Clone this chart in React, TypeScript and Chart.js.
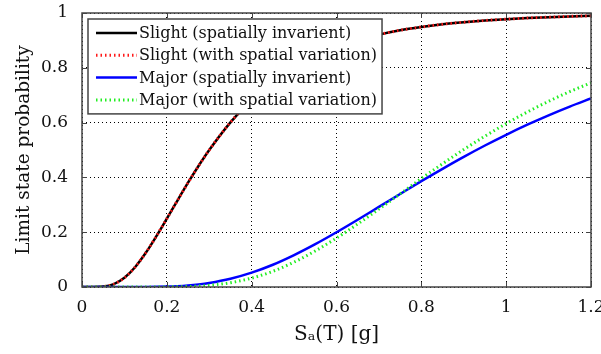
import React, { useEffect, useRef } from 'react';
import { Chart, registerables } from 'chart.js';

Chart.register(...registerables);

// Spectral acceleration Sa(T) [g]
const SA = [0, 0.025, 0.05, 0.075, 0.1, 0.125, 0.15, 0.175, 0.2, 0.225, 0.25, 0.275, 0.3,
  0.35, 0.4, 0.45, 0.5, 0.55, 0.6, 0.65, 0.7, 0.75, 0.8, 0.85, 0.9, 0.95, 1.0, 1.05, 1.1, 1.15, 1.2];

const SLIGHT_INV = [0, 0, 0.0014, 0.0104, 0.0336, 0.0723, 0.124, 0.1846, 0.2495, 0.3156, 0.3806, 0.4424, 0.5,
  0.601, 0.684, 0.75, 0.803, 0.844, 0.876, 0.901, 0.921, 0.937, 0.949, 0.959, 0.9665, 0.9726, 0.9776, 0.9816, 0.9848, 0.9875, 0.9896];
const SLIGHT_VAR = [0, 0, 0.0014, 0.0104, 0.0336, 0.0723, 0.124, 0.1846, 0.2495, 0.3156, 0.3806, 0.4424, 0.5,
  0.601, 0.684, 0.75, 0.803, 0.844, 0.876, 0.901, 0.921, 0.937, 0.949, 0.959, 0.9665, 0.9726, 0.9776, 0.9816, 0.9848, 0.9875, 0.9896];
const MAJOR_INV = [0, 0, 0, 0, 0, 0.0001, 0.0002, 0.0007, 0.0016, 0.0032, 0.0058, 0.0096, 0.0148,
  0.0301, 0.0524, 0.0812, 0.1164, 0.1563, 0.1997, 0.2454, 0.2925, 0.3395, 0.3863, 0.4313, 0.4749, 0.5164, 0.5555, 0.5923, 0.6266, 0.6585, 0.688];
const MAJOR_VAR = [0, 0, 0, 0, 0, 0, 0, 0.0001, 0.0003, 0.0008, 0.0018, 0.0035, 0.0062,
  0.0158, 0.0325, 0.0573, 0.0908, 0.1316, 0.1785, 0.23, 0.2843, 0.3398, 0.3959, 0.4497, 0.5018, 0.5505, 0.5964, 0.6388, 0.6776, 0.7132, 0.7453];

const SERIES_LABELS = [
  'Slight (spatially invarient)',
  'Slight (with spatial variation)',
  'Major (spatially invarient)',
  'Major (with spatial variation)',
];

const X_TICKS = [0, 0.2, 0.4, 0.6, 0.8, 1, 1.2];
const X_TICK_LABELS = ['0', '0.2', '0.4', '0.6', '0.8', '1', '1.2'];
const Y_TICKS = [0, 0.2, 0.4, 0.6, 0.8, 1];
const Y_TICK_LABELS = ['0', '0.2', '0.4', '0.6', '0.8', '1'];

const FONT = 'DejaVu Serif';
const FRAME = '#444444';

const toPoints = (ys: number[]) => SA.map((x, i) => ({ x, y: ys[i] }));

const framePlugin = {
  id: 'frameTicks',
  afterDatasetsDraw(chart: any) {
    const { ctx, chartArea: a, scales } = chart;
    ctx.save();
    ctx.strokeStyle = FRAME;
    ctx.lineWidth = 1;
    const L = 5;
    ctx.beginPath();
    X_TICKS.forEach((v) => {
      const px = Math.round(scales.x.getPixelForValue(v)) + 0.5;
      ctx.moveTo(px, a.bottom); ctx.lineTo(px, a.bottom - L);
      ctx.moveTo(px, a.top); ctx.lineTo(px, a.top + L);
    });
    Y_TICKS.forEach((v) => {
      const py = Math.round(scales.y.getPixelForValue(v)) + 0.5;
      ctx.moveTo(a.left, py); ctx.lineTo(a.left + L, py);
      ctx.moveTo(a.right, py); ctx.lineTo(a.right - L, py);
    });
    ctx.stroke();
    ctx.lineWidth = 1.5;
    ctx.strokeRect(a.left, a.top, a.right - a.left, a.bottom - a.top);
    ctx.restore();
  },
};

const legendPlugin = {
  id: 'innerLegend',
  afterDraw(chart: any) {
    const { ctx, chartArea: a } = chart;
    const ds = chart.data.datasets;
    ctx.save();
    ctx.font = `16px "${FONT}"`;
    const maxW = Math.max(...ds.map((d: any) => ctx.measureText(d.label).width));
    const left = a.left + 6;
    const top = a.top + 6;
    const sampleL = 8, sampleW = 41, gap = 2, rowH = 22.3, padTop = 14;
    const w = sampleL + sampleW + gap + maxW + 5;
    const h = padTop + rowH * (ds.length - 1) + 14;
    ctx.fillStyle = '#ffffff';
    ctx.fillRect(left, top, w, h);
    ctx.strokeStyle = FRAME;
    ctx.lineWidth = 1.5;
    ctx.strokeRect(left, top, w, h);
    ds.forEach((d: any, i: number) => {
      const y = top + padTop + rowH * i;
      ctx.beginPath();
      ctx.strokeStyle = d.borderColor;
      ctx.lineWidth = d.borderWidth;
      ctx.setLineDash(d.borderDash || []);
      ctx.moveTo(left + sampleL, y);
      ctx.lineTo(left + sampleL + sampleW, y);
      ctx.stroke();
      ctx.setLineDash([]);
      ctx.fillStyle = '#111111';
      ctx.textBaseline = 'middle';
      ctx.textAlign = 'left';
      ctx.fillText(d.label, left + sampleL + sampleW + gap, y + 1);
    });
    ctx.restore();
  },
};

export default function App() {
  const ref = useRef<HTMLCanvasElement | null>(null);

  useEffect(() => {
    if (!ref.current) return;
    const chart = new Chart(ref.current, {
      type: 'line',
      data: {
        datasets: [
          { label: SERIES_LABELS[0], data: toPoints(SLIGHT_INV), order: 4, borderColor: '#000000', borderWidth: 2.5, pointRadius: 0, cubicInterpolationMode: 'monotone', fill: false },
          { label: SERIES_LABELS[1], data: toPoints(SLIGHT_VAR), order: 3, borderColor: '#ff1a1a', borderWidth: 3, borderDash: [1.5, 3], pointRadius: 0, cubicInterpolationMode: 'monotone', fill: false },
          { label: SERIES_LABELS[2], data: toPoints(MAJOR_INV), order: 2, borderColor: '#0000ff', borderWidth: 2.5, pointRadius: 0, cubicInterpolationMode: 'monotone', fill: false },
          { label: SERIES_LABELS[3], data: toPoints(MAJOR_VAR), order: 1, borderColor: '#22ee22', borderWidth: 3, borderDash: [1.5, 3], pointRadius: 0, cubicInterpolationMode: 'monotone', fill: false },
        ] as any,
      },
      options: {
        animation: false,
        responsive: false,
        layout: { padding: { top: 13, right: 10, left: 0, bottom: 0 } },
        plugins: { legend: { display: false }, tooltip: { enabled: false } },
        scales: {
          x: {
            type: 'linear',
            min: 0,
            max: 1.2,
            afterBuildTicks: (s: any) => { s.ticks = X_TICKS.map((v) => ({ value: v })); },
            afterFit: (s: any) => { s.height = 67; s.paddingLeft = 0; s.paddingRight = 0; },
            grid: { color: '#000000', lineWidth: 1, drawTicks: false },
            border: { display: false, dash: [1, 3] },
            ticks: {
              color: '#111111',
              font: { family: FONT, size: 17 },
              padding: 10,
              maxRotation: 0,
              autoSkip: false,
              callback: (v: any) => X_TICK_LABELS[X_TICKS.indexOf(Number(v))] ?? '',
            },
            title: {
              display: true,
              text: 'Sₐ(T) [g]',
              color: '#111111',
              font: { family: FONT, size: 20 },
              padding: { top: 0, bottom: 7 },
            },
          },
          y: {
            type: 'linear',
            min: 0,
            max: 1,
            afterBuildTicks: (s: any) => { s.ticks = Y_TICKS.map((v) => ({ value: v })); },
            afterFit: (s: any) => { s.width = 82; s.paddingTop = 0; s.paddingBottom = 0; },
            grid: { color: '#000000', lineWidth: 1, drawTicks: false },
            border: { display: false, dash: [1, 3] },
            ticks: {
              color: '#111111',
              font: { family: FONT, size: 17 },
              padding: 14,
              autoSkip: false,
              callback: (v: any) => Y_TICK_LABELS[Y_TICKS.indexOf(Number(v))] ?? '',
            },
            title: {
              display: true,
              text: 'Limit state probability',
              color: '#111111',
              font: { family: FONT, size: 18.5 },
              padding: { top: 13, bottom: 0 },
            },
          },
        },
      } as any,
      plugins: [framePlugin, legendPlugin],
    });
    return () => chart.destroy();
  }, []);

  return (
    <div style={{ position: 'fixed', left: 0, top: 0, width: 601, height: 354, background: '#ffffff' }}>
      <canvas ref={ref} width={601} height={354} style={{ width: 601, height: 354, display: 'block' }} />
    </div>
  );
}
